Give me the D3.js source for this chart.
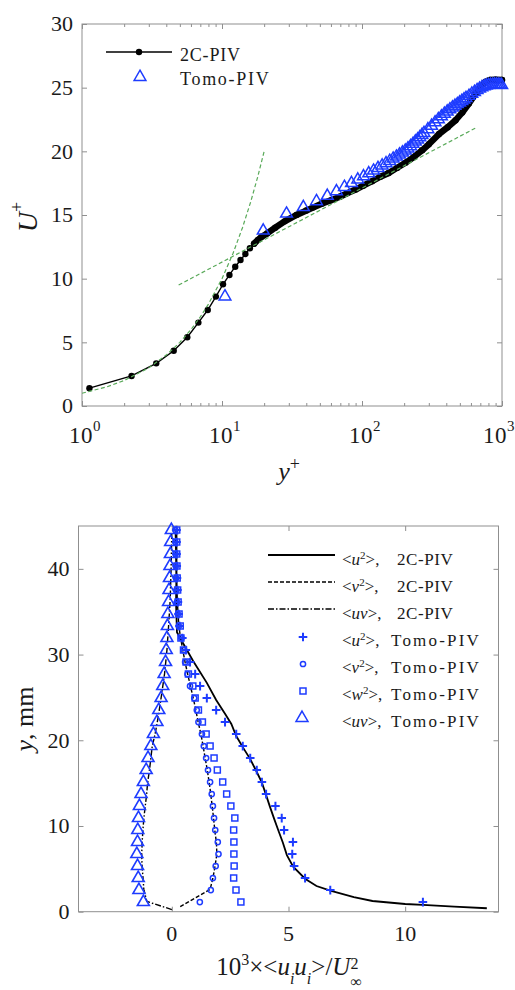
<!DOCTYPE html>
<html>
<head>
<meta charset="utf-8">
<script src="https://cdn.jsdelivr.net/npm/d3@7"></script>
<style>
  body { margin: 0; background: #fff; }
  svg { display: block; }
  text { font-family: "Liberation Serif", "Times New Roman", serif; fill: #1a1a1a; }
</style>
</head>
<body>
<div id="chart"></div>
<script>
// ---------- top panel: mean velocity profile ----------
let yPlus2C = [1.13, 2.26, 3.39, 4.52, 5.65, 6.78, 7.91, 9.04, 10.17, 11.3, 12.43, 13.56, 14.69, 15.82, 16.95,
  18.08, 19.21, 21, 24, 28, 34, 40, 45, 52, 60, 70, 78, 90, 102, 118, 135, 155, 178, 204, 234, 269, 300,
  354, 410, 466, 520, 580, 640, 700, 760, 820, 900, 1000];
let uPlus2C = [1.4, 2.36, 3.35, 4.34, 5.4, 6.55, 7.54, 8.59, 9.56, 10.29, 10.94, 11.47, 11.94, 12.39, 12.75,
  13.05, 13.3, 13.55, 14.0, 14.5, 15.0, 15.35, 15.6, 15.9, 16.15, 16.45, 16.7, 17.0, 17.3, 17.65, 18.0, 18.3,
  18.7, 19.1, 19.55, 20.08, 20.55, 21.35, 21.9, 22.44, 23.05, 23.75, 24.45, 25.05, 25.45, 25.6, 25.62, 25.6];

let yPlusTomo = [10.5, 19.7, 28.9, 38.1, 47.3, 56.5, 65.7, 74.9, 84.1, 93.3, 102.5, 111.7, 120.9, 130.1, 139.3,
  148.5, 157.7, 166.9, 176.1, 185.3, 194.5, 203.7, 212.9, 222.1, 231.3, 240.5, 249.7, 258.9, 268.1, 277.3,
  295.7, 314.1, 332.5, 350.9, 369.3, 387.7, 406.1, 424.5, 442.9, 461.3, 479.7, 498.1, 516.5, 534.9, 553.3,
  580.9, 608.5, 636.1, 663.7, 691.3, 718.9, 746.5, 774.1, 801.7, 829.3, 856.9, 884.5, 912.1, 939.7, 967.3, 994.9];
let uPlusTomo = [8.6, 13.77, 15.1, 15.62, 16.08, 16.5, 16.86, 17.2, 17.5, 17.78, 18.03, 18.27, 18.48, 18.68, 18.88,
  19.06, 19.24, 19.42, 19.58, 19.74, 19.9, 20.05, 20.22, 20.4, 20.58, 20.76, 20.93, 21.1, 21.27, 21.43,
  21.73, 22.0, 22.27, 22.52, 22.74, 22.94, 23.12, 23.29, 23.44, 23.57, 23.7, 23.83, 23.95, 24.07, 24.18,
  24.35, 24.52, 24.66, 24.8, 24.92, 25.02, 25.1, 25.16, 25.2, 25.22, 25.23, 25.24, 25.24, 25.23, 25.22, 25.2];

// reference laws (green dashed)
let subYplus = [1, 1.5, 2, 3, 4, 5, 6, 7, 8, 10, 12, 14, 16, 18, 20];
let subUplus = [1, 1.5, 2, 3, 4, 5, 6, 7, 8, 10, 12, 14, 16, 18, 20];
let logYplus = [4.9, 665];
let logUplus = [9.5, 21.9];

let xMajorTop = [1, 10, 100, 1000];
let xExpTop = ["0", "1", "2", "3"];
let xMinorTop = [2, 3, 4, 5, 6, 7, 8, 9, 20, 30, 40, 50, 60, 70, 80, 90, 200, 300, 400, 500, 600, 700, 800, 900];
let yTicksTop = [0, 5, 10, 15, 20, 25, 30];

// ---------- bottom panel: Reynolds stresses ----------
let yTomo = [1.12, 2.52, 3.92, 5.32, 6.72, 8.12, 9.52, 10.92, 12.32, 13.72, 15.12, 16.52, 17.92, 19.32, 20.72,
  22.12, 23.52, 24.92, 26.32, 27.72, 29.12, 30.52, 31.92, 33.32, 34.72, 36.12, 37.52, 38.92, 40.32, 41.72, 43.12, 44.52];
let u2Tomo = [10.76, 6.79, 5.71, 5.24, 5.16, 5.19, 4.81, 4.71, 4.44, 4.04, 3.86, 3.64, 3.36, 3.04, 2.76,
  2.28, 1.90, 1.50, 1.21, 1.00, 0.78, 0.60, 0.45, 0.33, 0.29, 0.26, 0.24, 0.22, 0.21, 0.20, 0.20, 0.20];
let v2Tomo = [1.20, 1.67, 1.76, 1.88, 2.00, 1.97, 1.86, 1.81, 1.76, 1.71, 1.64, 1.55, 1.47, 1.37, 1.29,
  1.14, 1.07, 0.96, 0.78, 0.67, 0.57, 0.50, 0.41, 0.30, 0.26, 0.22, 0.20, 0.18, 0.17, 0.16, 0.15, 0.15];
let w2Tomo = [2.96, 2.75, 2.65, 2.67, 2.66, 2.66, 2.65, 2.70, 2.53, 2.35, 2.18, 1.95, 1.81, 1.64, 1.47,
  1.31, 1.14, 1.00, 0.90, 0.71, 0.61, 0.50, 0.39, 0.36, 0.31, 0.27, 0.25, 0.23, 0.22, 0.21, 0.21, 0.21];
let uvTomo = [-1.22, -1.41, -1.44, -1.47, -1.50, -1.47, -1.46, -1.43, -1.39, -1.32, -1.22, -1.10, -1.02, -0.90, -0.79,
  -0.64, -0.56, -0.46, -0.39, -0.33, -0.27, -0.24, -0.21, -0.19, -0.17, -0.14, -0.12, -0.10, -0.08, -0.06, -0.05, -0.02];

let u2cV = [0.20, 0.20, 0.18, 0.22, 0.36, 0.90, 1.50, 1.90, 2.30, 2.55, 2.76, 3.04, 3.36, 3.64, 3.86, 4.04,
  4.21, 4.39, 4.57, 4.76, 4.93, 5.20, 5.71, 6.20, 6.79, 7.80, 8.60, 10.00, 10.76, 12.10, 13.50];
let u2cY = [44.5, 40.0, 36.0, 32.6, 31.9, 29.3, 26.7, 24.7, 23.0, 21.9, 20.5, 19.2, 17.8, 16.3, 15.05, 13.6,
  12.2, 10.8, 9.45, 8.05, 6.6, 5.25, 3.85, 3.0, 2.45, 1.7, 1.25, 0.9, 0.8, 0.6, 0.4];
let v2cV = [0.36, 1.64, 1.76, 1.85, 1.93, 1.91, 1.84, 1.79, 1.73, 1.67, 1.60, 1.52, 1.43, 1.34, 1.25, 1.13,
  1.03, 0.92, 0.80, 0.68, 0.57, 0.47, 0.38, 0.30, 0.24, 0.19, 0.15];
let v2cY = [0.6, 2.6, 3.9, 5.3, 6.7, 8.1, 9.5, 10.9, 12.3, 13.7, 15.1, 16.5, 17.9, 19.3, 20.7, 22.1,
  23.5, 24.9, 26.3, 27.7, 29.1, 30.5, 31.9, 33.3, 36.0, 40.0, 44.5];
let uv2cV = [0.00, -1.07, -1.20, -1.24, -1.28, -1.29, -1.27, -1.24, -1.20, -1.14, -1.08, -1.04, -0.96, -0.90,
  -0.84, -0.72, -0.63, -0.55, -0.43, -0.31, -0.21, -0.14, -0.07, -0.03, 0.00];
let uv2cY = [0.25, 1.2, 2.6, 4.1, 5.5, 6.8, 8.2, 9.5, 10.9, 12.3, 13.7, 15.0, 16.5, 17.9, 19.3, 20.7,
  22.0, 23.3, 25.5, 27.8, 30.5, 33.3, 36.4, 40.2, 44.4];

let xTicksBot = [0, 5, 10];
let yTicksBot = [0, 10, 20, 30, 40];

const BLUE = "#1e3cff";
const GREEN = "#5aaa5a";
const FRAME = "#8f8f8f";

let svg = d3.select("#chart").append("svg")
  .attr("width", 515)
  .attr("height", 990);

// write text made of styled pieces (italic, super/subscript)
function rich(sel, parts) {
  parts.forEach(p => {
    let ts = sel.append("tspan").text(p.t);
    if (p.it) ts.style("font-style", "italic");
    if (p.fs) ts.style("font-size", p.fs + "px");
    if (p.dy) ts.attr("dy", p.dy);
    if (p.dx) ts.attr("dx", p.dx);
    if (p.x != null) ts.attr("x", p.x);
    if (p.ls) ts.style("letter-spacing", p.ls + "px");
  });
  return sel;
}

// box with inward ticks on all four sides
function frame(box, x, y, xMajor, xMinor, yMajor) {
  let g = svg.append("g");
  let sides = [
    [d3.axisBottom, `translate(0,${box.bottom})`, x],
    [d3.axisTop, `translate(0,${box.top})`, x],
    [d3.axisLeft, `translate(${box.left},0)`, y],
    [d3.axisRight, `translate(${box.right},0)`, y]
  ];
  sides.forEach(([ax, tr, sc], i) => {
    let major = i < 2 ? xMajor : yMajor;
    let a = g.append("g").attr("transform", tr)
      .call(ax(sc).tickValues(major).tickSize(-5).tickFormat(""));
    a.select(".domain").remove();
    a.selectAll("line").attr("stroke", FRAME);
    if (i < 2 && xMinor) {
      let m = g.append("g").attr("transform", tr)
        .call(ax(sc).tickValues(xMinor).tickSize(-3).tickFormat(""));
      m.select(".domain").remove();
      m.selectAll("line").attr("stroke", FRAME);
    }
  });
  g.append("rect")
    .attr("x", box.left).attr("y", box.top)
    .attr("width", box.right - box.left).attr("height", box.bottom - box.top)
    .attr("fill", "none").attr("stroke", FRAME).attr("stroke-width", 1);
}

// ================= TOP PANEL =================
let topBox = { left: 82, right: 502, top: 24, bottom: 406 };
let xTop = d3.scaleLog().domain([1, 1000]).range([topBox.left, topBox.right]);
let yTop = d3.scaleLinear().domain([0, 30]).range([topBox.bottom, topBox.top]);

frame(topBox, xTop, yTop, xMajorTop, xMinorTop, yTicksTop);

svg.append("g").selectAll("text").data(yTicksTop).enter().append("text")
  .attr("x", topBox.left - 9).attr("y", d => yTop(d)).attr("dy", "0.34em")
  .attr("text-anchor", "end").style("font-size", "22px").text(d => d);

xMajorTop.forEach((v, i) => {
  // last label would run off the page, nudge it in
  let shift = i === xMajorTop.length - 1 ? 19 : 13;
  rich(svg.append("text").attr("x", xTop(v) - shift).attr("y", 443).style("font-size", "23px"),
    [{ t: "10", ls: 0.5 }, { t: xExpTop[i], fs: 15, dy: -12 }]);
});

let lineTop = d3.line().x(d => xTop(d[0])).y(d => yTop(d[1]));
let data2C = d3.zip(yPlus2C, uPlus2C);

// 2C-PIV: thin line, then the dense markers merging into a band
svg.append("path").datum(data2C).attr("d", lineTop)
  .attr("fill", "none").attr("stroke", "#000").attr("stroke-width", 1.4);
svg.append("path").datum(data2C.filter(d => d[0] >= 16)).attr("d", lineTop)
  .attr("fill", "none").attr("stroke", "#000").attr("stroke-width", 6.4)
  .attr("stroke-linejoin", "round").attr("stroke-linecap", "round");
svg.append("g").selectAll("circle").data(data2C).enter().append("circle")
  .attr("cx", d => xTop(d[0])).attr("cy", d => yTop(d[1])).attr("r", 3.2).attr("fill", "#000");

// Tomo-PIV triangles
let tri = d3.symbol().type(d3.symbolTriangle).size(60);
svg.append("g").selectAll("path").data(d3.zip(yPlusTomo, uPlusTomo)).enter().append("path")
  .attr("d", tri)
  .attr("transform", d => `translate(${xTop(d[0])},${yTop(d[1])})`)
  .attr("fill", "none").attr("stroke", BLUE).attr("stroke-width", 1.5);

// green reference laws
[[subYplus, subUplus], [logYplus, logUplus]].forEach(([xs, ys]) => {
  svg.append("path").datum(d3.zip(xs, ys)).attr("d", lineTop)
    .attr("fill", "none").attr("stroke", GREEN).attr("stroke-width", 1.2)
    .attr("stroke-dasharray", "4,2.5");
});

// legend
svg.append("line").attr("x1", 106).attr("x2", 172).attr("y1", 52).attr("y2", 52)
  .attr("stroke", "#000").attr("stroke-width", 1.4);
svg.append("circle").attr("cx", 139).attr("cy", 52).attr("r", 3.2).attr("fill", "#000");
rich(svg.append("text").attr("x", 180).attr("y", 61).style("font-size", "18px"), [{ t: "2C-PIV", ls: 0.8 }]);
svg.append("path").attr("d", tri).attr("transform", "translate(140,77)")
  .attr("fill", "none").attr("stroke", BLUE).attr("stroke-width", 1.5);
rich(svg.append("text").attr("x", 180).attr("y", 85).style("font-size", "18px"), [{ t: "Tomo-PIV", ls: 1.7 }]);

// axis labels
rich(svg.append("text").attr("transform", "translate(37,217) rotate(-90)")
  .attr("text-anchor", "middle").style("font-size", "28px"),
  [{ t: "U", it: true }, { t: "+", fs: 18, dy: -14 }]);
rich(svg.append("text").attr("x", 289).attr("y", 480).attr("text-anchor", "middle").style("font-size", "26px"),
  [{ t: "y", it: true }, { t: "+", fs: 18, dy: -10 }]);

// ================= BOTTOM PANEL =================
let botBox = { left: 78.5, right: 498.5, top: 526, bottom: 911.7 };
let xBot = d3.scaleLinear().domain([-4, 14]).range([botBox.left, botBox.right]);
let yBot = d3.scaleLinear().domain([0, 45]).range([botBox.bottom, botBox.top]);

frame(botBox, xBot, yBot, xTicksBot, null, yTicksBot);

svg.append("g").selectAll("text").data(yTicksBot).enter().append("text")
  .attr("x", botBox.left - 9).attr("y", d => yBot(d)).attr("dy", "0.34em")
  .attr("text-anchor", "end").style("font-size", "22px").text(d => d);
svg.append("g").selectAll("text").data(xTicksBot).enter().append("text")
  .attr("x", d => xBot(d)).attr("y", 941)
  .attr("text-anchor", "middle").style("font-size", "22px").text(d => d);

let lineBot = d3.line().x(d => xBot(d[0])).y(d => yBot(d[1]));
let lineStyles = [
  [u2cV, u2cY, null, 1.8],
  [v2cV, v2cY, "4,2", 1.4],
  [uv2cV, uv2cY, "6,2,1.5,2", 1.4]
];
lineStyles.forEach(([vs, ys, dash, w]) => {
  svg.append("path").datum(d3.zip(vs, ys)).attr("d", lineBot)
    .attr("fill", "none").attr("stroke", "#000").attr("stroke-width", w)
    .attr("stroke-dasharray", dash);
});

// Tomo-PIV markers
let plus = "M-4.3,0H4.3M0,-4.3V4.3";
let square = "M-3,-3H3V3H-3Z";
let bigTri = d3.symbol().type(d3.symbolTriangle).size(62);

function markers(vals, shape, w) {
  svg.append("g").selectAll("path").data(d3.zip(vals, yTomo)).enter().append("path")
    .attr("d", shape)
    .attr("transform", d => `translate(${xBot(d[0])},${yBot(d[1])})`)
    .attr("fill", "none").attr("stroke", BLUE).attr("stroke-width", w);
}
markers(u2Tomo, plus, 2);
svg.append("g").selectAll("circle").data(d3.zip(v2Tomo, yTomo)).enter().append("circle")
  .attr("cx", d => xBot(d[0])).attr("cy", d => yBot(d[1])).attr("r", 2.6)
  .attr("fill", "none").attr("stroke", BLUE).attr("stroke-width", 1.5);
markers(w2Tomo, square, 1.5);
markers(uvTomo, bigTri, 1.6);

// legend
let sq = { t: "2", fs: 11, dy: -6 };
let legRows = [
  { y: 565, dash: null, w: 1.8, parts: [{ t: "<" }, { t: "u", it: true }, sq, { t: ">,", dy: 6 }, { t: "2C-PIV", x: 397, ls: 0.6 }] },
  { y: 592, dash: "4,2", w: 1.4, parts: [{ t: "<" }, { t: "v", it: true }, sq, { t: ">,", dy: 6 }, { t: "2C-PIV", x: 397, ls: 0.6 }] },
  { y: 619, dash: "6,2,1.5,2", w: 1.4, parts: [{ t: "<" }, { t: "uv", it: true }, { t: ">," }, { t: "2C-PIV", x: 397, ls: 0.6 }] },
  { y: 646, mark: "plus", parts: [{ t: "<" }, { t: "u", it: true }, sq, { t: ">,", dy: 6 }, { t: "Tomo-PIV", x: 391, ls: 2.2 }] },
  { y: 673, mark: "circle", parts: [{ t: "<" }, { t: "v", it: true }, sq, { t: ">,", dy: 6 }, { t: "Tomo-PIV", x: 391, ls: 2.2 }] },
  { y: 700, mark: "square", parts: [{ t: "<" }, { t: "w", it: true }, sq, { t: ">,", dy: 6 }, { t: "Tomo-PIV", x: 391, ls: 2.2 }] },
  { y: 727, mark: "tri", parts: [{ t: "<" }, { t: "uv", it: true }, { t: ">," }, { t: "Tomo-PIV", x: 391, ls: 2.2 }] }
];
legRows.forEach(r => {
  let cy = r.y - 9;
  if (r.mark == null) {
    svg.append("line").attr("x1", 268).attr("x2", 335).attr("y1", cy - 1).attr("y2", cy - 1)
      .attr("stroke", "#000").attr("stroke-width", r.w).attr("stroke-dasharray", r.dash);
  } else if (r.mark === "circle") {
    svg.append("circle").attr("cx", 303).attr("cy", cy).attr("r", 2.6)
      .attr("fill", "none").attr("stroke", BLUE).attr("stroke-width", 1.5);
  } else {
    let shape = r.mark === "plus" ? plus : r.mark === "square" ? square : bigTri();
    svg.append("path").attr("d", shape).attr("transform", `translate(${r.mark === "tri" ? 302 : 303},${cy})`)
      .attr("fill", "none").attr("stroke", BLUE).attr("stroke-width", r.mark === "plus" ? 2 : 1.5);
  }
  rich(svg.append("text").attr("x", 342).attr("y", r.y).style("font-size", "17px"), r.parts);
});

// axis labels
rich(svg.append("text").attr("transform", "translate(33,719) rotate(-90)")
  .attr("text-anchor", "middle").style("font-size", "26px"),
  [{ t: "y", it: true }, { t: ", mm" }]);
rich(svg.append("text").attr("x", 289).attr("y", 975).attr("text-anchor", "middle").style("font-size", "25px"),
  [{ t: "10" }, { t: "3", fs: 16, dy: -10 }, { t: "×<", dy: 10 }, { t: "u", it: true },
   { t: "i", it: true, fs: 16, dy: 9 }, { t: "u", it: true, dy: -9 }, { t: "i", it: true, fs: 16, dy: 9 },
   { t: ">/", dy: -9 }, { t: "U", it: true }, { t: "2", fs: 16, dy: -6 }, { t: "∞", fs: 16, dy: 18, dx: -8 }]);
</script>
</body>
</html>
